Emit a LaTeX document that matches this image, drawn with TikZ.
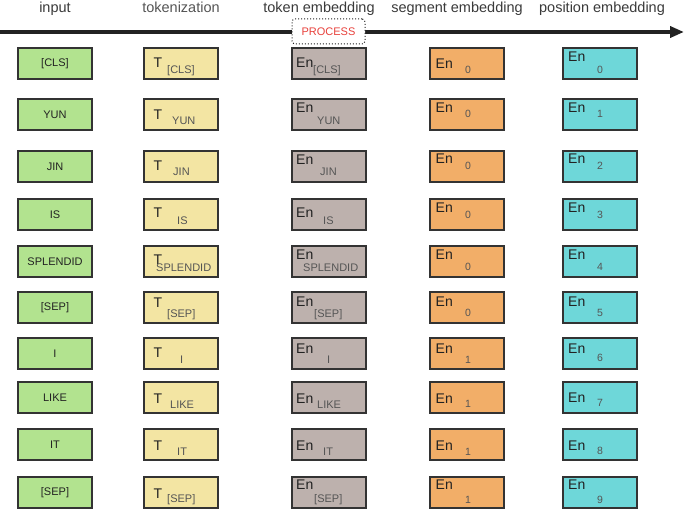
\documentclass[tikz,border=0pt]{standalone}
\usepackage{fontspec}
\setmainfont{Liberation Sans}
\usetikzlibrary{arrows.meta}
\definecolor{ingreen}{HTML}{B2E38F}
\definecolor{tkyellow}{HTML}{F3E5A3}
\definecolor{tegray}{HTML}{BDB1AD}
\definecolor{seorange}{HTML}{F2AE68}
\definecolor{pecyan}{HTML}{6ED7D9}
\definecolor{boxline}{HTML}{333333}
\definecolor{maintxt}{HTML}{222222}
\definecolor{subtxt}{HTML}{555555}
\definecolor{headtxt}{HTML}{3A3A3A}
\definecolor{procred}{HTML}{E8413C}
\begin{document}
\begin{tikzpicture}[x=1pt,y=-1pt,
  box/.style={draw=boxline, line width=1.4pt, minimum width=74pt, minimum height=31pt,
    anchor=north west, inner sep=0pt, outer sep=0pt},
  inbox/.style={box, fill=ingreen, font=\fontsize{11}{11}\selectfont, text=maintxt},
  tkbox/.style={box, fill=tkyellow},
  tebox/.style={box, fill=tegray},
  sebox/.style={box, fill=seorange},
  pebox/.style={box, fill=pecyan},
  maintext/.style={anchor=base west, inner sep=0pt, font=\fontsize{14}{14}\selectfont, text=maintxt},
  subtext/.style={anchor=base west, inner sep=0pt, font=\fontsize{11}{11}\selectfont, text=subtxt},
  numtext/.style={anchor=base west, inner sep=0pt, font=\fontsize{10.5}{11}\selectfont, text=subtxt},
  head/.style={anchor=base, inner sep=0pt, font=\fontsize{14.5}{15}\selectfont, text=headtxt},
  procbox/.style={draw=maintxt, dotted, line width=1pt, rounded corners=3pt, fill=white,
    minimum width=73pt, minimum height=25pt, inner sep=0pt,
    font=\fontsize{11}{11}\selectfont, text=procred}
]
\useasboundingbox (0,0) rectangle (685,510);

% headings
\node[head] (h1) at (55,13) {input};
\node[head, text=subtxt] (h2) at (181,13) {tokenization};
\node[head] (h3) at (319,13) {token embedding};
\node[head] (h4) at (457,13) {segment embedding};
\node[head] (h5) at (602,13) {position embedding};

% process arrow
\coordinate (astart) at (0,32);
\coordinate (aend) at (684,32);
\draw[line width=3.5pt, color=maintxt, -{Triangle[length=14pt,width=11pt]}] (astart) -- (aend);
\node[procbox] (proc) at (328.5,31.5) {PROCESS};

% input column
\foreach \i/\y/\t in {1/48/{[CLS]},2/99/YUN,3/151/JIN,4/199/IS,5/246/SPLENDID,
                      6/292/{[SEP]},7/338/I,8/382/LIKE,9/429/IT,10/477/{[SEP]}}{
  \node[inbox] (in\i) at (18,\y) {\t};
}

% tokenization column
\foreach \i/\y/\t/\md/\sx/\sd in {1/48/{[CLS]}/15/23/22, 2/99/YUN/15.5/28/21.5,
    3/151/JIN/15/29/21, 4/199/IS/14/33/21.5, 5/246/SPLENDID/14/12/21.5,
    6/292/{[SEP]}/11/23/21.5, 7/338/I/15/36/21.5, 8/382/LIKE/16/26/22,
    9/429/IT/16/33/22, 10/477/{[SEP]}/16/23/21}{
  \node[tkbox] (tk\i) at (144,\y) {};
  \node[maintext] (tkm\i) at ([shift={(9.5,\md+5)}]tk\i.north west) {T};
  \node[subtext] (tks\i) at ([shift={(\sx,\sd+4)}]tk\i.north west) {\t};
}

% token embedding column
\foreach \i/\y/\t/\md/\sx/\sd in {1/48/{[CLS]}/15/21/22, 2/99/YUN/9/25/21.5,
    3/151/JIN/9/28/21, 4/199/IS/14/31/21.5, 5/246/SPLENDID/9/11/21.5,
    6/292/{[SEP]}/10/22/21.5, 7/338/I/10/35/21.5, 8/382/LIKE/16/25/22,
    9/429/IT/16/31/22, 10/477/{[SEP]}/7/22/21}{
  \node[tebox] (te\i) at (292,\y) {};
  \node[maintext] (tem\i) at ([shift={(4,\md+5)}]te\i.north west) {En};
  \node[subtext] (tes\i) at ([shift={(\sx,\sd+4)}]te\i.north west) {\t};
}

% segment embedding column
\foreach \i/\y/\t/\md/\sd in {1/48/0/15.5/21.5, 2/99/0/9/14.5, 3/151/0/8/15,
    4/199/0/9/16, 5/246/0/9/21, 6/292/0/10/21, 7/338/1/10/21,
    8/382/1/16/21.5, 9/429/1/16/22.5, 10/477/1/7.5/22.5}{
  \node[sebox] (se\i) at (430,\y) {};
  \node[maintext] (sem\i) at ([shift={(5.5,\md+5)}]se\i.north west) {En};
  \node[numtext] (ses\i) at ([shift={(35,\sd+4)}]se\i.north west) {\t};
}

% position embedding column
\foreach \i/\y/\t/\md/\sd in {1/48/0/9/21.5, 2/99/1/9/15, 3/151/2/8/15,
    4/199/3/9/16, 5/246/4/9/21, 6/292/5/10/21, 7/338/6/10/19,
    8/382/7/15/20, 9/429/8/16/21, 10/477/9/7.5/22.5}{
  \node[pebox] (pe\i) at (563,\y) {};
  \node[maintext] (pem\i) at ([shift={(5,\md+5)}]pe\i.north west) {En};
  \node[numtext] (pes\i) at ([shift={(34,\sd+4)}]pe\i.north west) {\t};
}
\end{tikzpicture}
\end{document}
